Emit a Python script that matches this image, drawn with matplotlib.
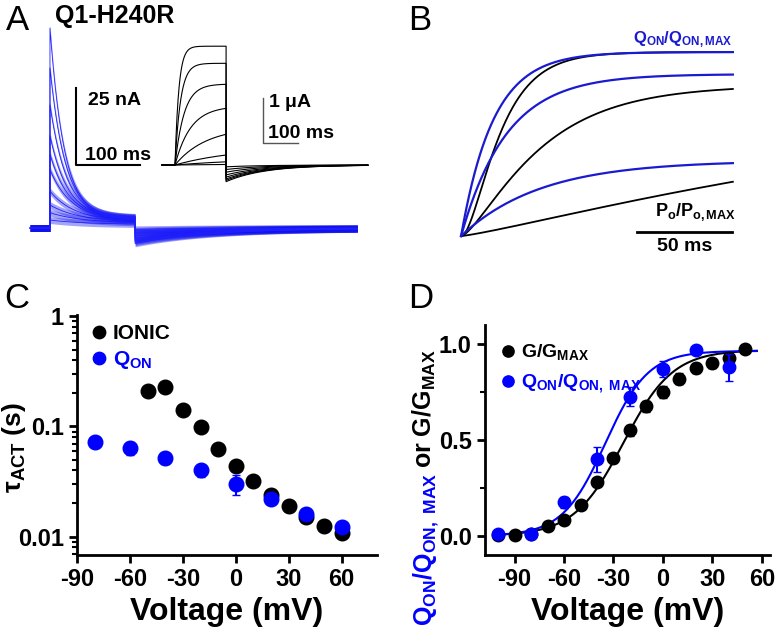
import numpy as np
import matplotlib
matplotlib.use('Agg')
import matplotlib.pyplot as plt
from matplotlib.ticker import FixedLocator, LogLocator, NullFormatter

plt.rcParams['font.family'] = 'Liberation Sans'
plt.rcParams['font.weight'] = 'bold'
plt.rcParams['axes.unicode_minus'] = False
plt.rcParams['mathtext.fontset'] = 'custom'
plt.rcParams['mathtext.rm'] = 'Liberation Sans:bold'
plt.rcParams['mathtext.bf'] = 'Liberation Sans:bold'
plt.rcParams['mathtext.it'] = 'Liberation Sans:bold'
plt.rcParams['mathtext.default'] = 'bf'

# ---- Panel A: gating currents (nA, ms from pulse onset) ----
gate_peak = [65, 52, 40, 30, 24, 19, 12, 7.5, 5, 2.6]
gate_tau = [22, 24, 26, 28, 30, 33, 38, 45, 50, 55]
gate_sustained = [3.5, 3.4, 3.2, 3.0, 2.8, 2.6, 2.3, 2.0, 1.6, 1.2]
gate_off = [5.0, 4.6, 4.2, 3.7, 3.2, 2.6, 2.0, 1.4, 0.9, 0.4]
gate_off_tau = 120
gate_pulse_end = 133
gate_t_start, gate_t_stop = -31, 480

# ---- Panel A inset: ionic currents (uA, ms from pulse onset) ----
ion_ss = [2.64, 2.26, 1.80, 1.31, 0.85, 0.40, 0.16, 0.03]
ion_tau = [11, 16, 26, 45, 90, 180, 250, 300]
ion_tail = [0.37, 0.34, 0.31, 0.27, 0.22, 0.16, 0.10, 0.04]
ion_tail_tau = 110
ion_pulse_end = 146
ion_t_start, ion_t_stop = -37, 551

# ---- Panel B: normalized time courses (ms) ----
b_t_stop = 143
qon_amp = [1.0, 0.88, 0.41]
qon_tau = [17, 24, 42]
po_amp = [1.0, 0.82, 0.80]
po_tau = [15, 35, 250]
po_pow = [2, 1.5, 1.2]

# ---- Panel C: activation time constants ----
volt_ionic = [-50, -40, -30, -20, -10, 0, 10, 20, 30, 40, 50, 60]
tau_ionic = [0.208, 0.227, 0.140, 0.098, 0.062, 0.044, 0.032, 0.024, 0.019, 0.015, 0.0126, 0.0107]
tau_ionic_err = [0.02, 0.02, 0.01, 0.007, 0.004, 0.003, 0.002, 0.002, 0.0012, 0.001, 0.0008, 0.0008]
volt_qon = [-80, -60, -40, -20, 0, 20, 40, 60]
tau_qon = [0.073, 0.064, 0.052, 0.040, 0.030, 0.022, 0.016, 0.0123]
tau_qon_err = [0.008, 0.009, 0.006, 0.005, 0.006, 0.002, 0.0015, 0.001]

# ---- Panel D: G-V and Q-V ----
volt_g = [-100, -90, -80, -70, -60, -50, -40, -30, -20, -10, 0, 10, 20, 30, 40, 50]
g_norm = [0.005, 0.005, 0.01, 0.05, 0.085, 0.16, 0.28, 0.405, 0.55, 0.675, 0.75, 0.82, 0.875, 0.90, 0.93, 0.975]
g_err = [0.01, 0.01, 0.01, 0.015, 0.02, 0.02, 0.02, 0.025, 0.03, 0.03, 0.03, 0.03, 0.025, 0.025, 0.03, 0.02]
volt_q = [-100, -80, -60, -40, -20, 0, 20, 40]
q_norm = [0.01, 0.01, 0.175, 0.40, 0.725, 0.87, 0.97, 0.88]
q_err = [0.01, 0.01, 0.03, 0.065, 0.05, 0.04, 0.015, 0.07]
g_fit = [0.97, -24, 15]   # amplitude, V1/2, slope
q_fit = [0.965, -35, 13]

fig = plt.figure(figsize=(7.84, 6.28), dpi=100)

def fx(px):
    return px / 784

def fy(py):
    return 1 - py / 628

# panel letters
for letter, px, py in [('A', 6, 4), ('B', 408, 4), ('C', 4, 282), ('D', 408, 282)]:
    fig.text(fx(px), fy(py), letter, fontsize=25, fontweight='normal', va='top', ha='left')
fig.text(fx(55), fy(16), 'Q1-H240R', fontsize=18, va='center', ha='left')

# ---- A: gating currents ----
axA = fig.add_axes([fx(25), fy(265), fx(340), 245 / 628])
axA.set_xlim(-39, 492)
axA.set_ylim(-12.0, 67.6)
axA.axis('off')
t_on = np.linspace(0, gate_pulse_end, 400)
t_off = np.linspace(gate_pulse_end, gate_t_stop, 400)
for a, tau, s, off in zip(gate_peak, gate_tau, gate_sustained, gate_off):
    i_on = (a - s) * np.exp(-t_on / tau) + s
    i_off = -off * np.exp(-(t_off - gate_pulse_end) / gate_off_tau)
    t = np.concatenate([[gate_t_start, 0], t_on, t_off])
    i = np.concatenate([[0, 0], i_on, i_off])
    axA.fill_between(t, i - 1.1, i + 1.1, color='#1010ee', alpha=0.38, lw=0)
    axA.plot(t, i, color='#2020ff', lw=0.6)
# scale bar 25 nA / 100 ms
axA.plot([40.6, 40.6, 140.6], [45.5, 20.5, 20.5], color='black', lw=1.5)
axA.text(59, 41.6, '25 nA', fontsize=14, va='center', ha='left')
axA.text(54, 23.7, '100 ms', fontsize=14, va='center', ha='left')

# ---- A inset: ionic currents ----
axI = fig.add_axes([fx(155), fy(200), fx(217), 170 / 628])
axI.set_xlim(-57.1, 562.9)
axI.set_ylim(-0.778, 3.0)
axI.axis('off')
t_on = np.linspace(0, ion_pulse_end, 300)
t_off = np.linspace(ion_pulse_end, ion_t_stop, 300)
for ss, tau, tail in zip(ion_ss, ion_tau, ion_tail):
    i_on = ss * (1 - np.exp(-t_on / tau))
    i_off = -tail * np.exp(-(t_off - ion_pulse_end) / ion_tail_tau)
    t = np.concatenate([[ion_t_start], t_on, t_off])
    i = np.concatenate([[0], i_on, i_off])
    axI.plot(t, i, color='black', lw=0.8)
axI.plot([251.4, 251.4, 351.4], [1.489, 0.489, 0.489], color='#555555', lw=1.0)
axI.text(266, 1.38, '1 $\\mathregular{\\mu}$A', fontsize=14, va='center', ha='left')
axI.text(266, 0.71, '100 ms', fontsize=14, va='center', ha='left')

# ---- B: normalized kinetics ----
axB = fig.add_axes([fx(455), fy(255), fx(290), 225 / 628])
axB.set_xlim(-3.2, 149.4)
axB.set_ylim(-0.103, 1.12)
axB.axis('off')
tb = np.linspace(0, b_t_stop, 400)
for a, tau, p in zip(po_amp, po_tau, po_pow):
    axB.plot(tb, a * (1 - np.exp(-tb / tau)) ** p, color='black', lw=1.3)
for a, tau in zip(qon_amp, qon_tau):
    axB.plot(tb, a * (1 - np.exp(-tb / tau)), color='#1a1ad0', lw=1.6)
axB.plot([92.6, 142.6], [0.022, 0.022], color='black', lw=2)
axB.text(117.6, -0.055, '50 ms', fontsize=14, ha='center', va='center')
axB.text(142.6, 1.065, '$Q_{ON}/Q_{ON,MAX}$', fontsize=12, color='#1a1ad0',
         ha='right', va='center')
axB.text(144.7, 0.13, '$P_{o}/P_{o,MAX}$', fontsize=13, color='black',
         ha='right', va='center')

def style_axis(ax):
    for side in ['top', 'right']:
        ax.spines[side].set_visible(False)
    for side in ['left', 'bottom']:
        ax.spines[side].set_linewidth(2)
    ax.tick_params(which='major', direction='out', width=2, length=6, labelsize=17)
    ax.tick_params(which='minor', direction='out', width=1.5, length=3.5)
    for lab in ax.get_xticklabels() + ax.get_yticklabels():
        lab.set_fontweight('bold')

# ---- C: tau vs voltage ----
axC = fig.add_axes([fx(77), fy(555), fx(300), 240 / 628])
axC.errorbar(volt_ionic, tau_ionic, yerr=tau_ionic_err, fmt='none', ecolor='black',
             elinewidth=1.5, capsize=3)
hC1, = axC.plot(volt_ionic, tau_ionic, 'o', color='black', ms=10.5, label='IONIC')
axC.errorbar(volt_qon, tau_qon, yerr=tau_qon_err, fmt='none', ecolor='blue',
             elinewidth=1.5, capsize=3)
hC2, = axC.plot(volt_qon, tau_qon, 'o', color='blue', ms=10.5, label='$Q_{ON}$')
axC.set_yscale('log')
axC.set_xlim(-90, 80)
axC.set_ylim(0.0068, 1.03)
axC.xaxis.set_major_locator(FixedLocator([-90, -60, -30, 0, 30, 60]))
axC.yaxis.set_major_locator(FixedLocator([0.01, 0.1, 1]))
axC.set_yticklabels(['0.01', '0.1', '1'])
axC.yaxis.set_minor_locator(LogLocator(base=10, subs=np.arange(2, 10)))
axC.yaxis.set_minor_formatter(NullFormatter())
style_axis(axC)
axC.set_xlabel('Voltage (mV)', fontsize=23, fontweight='bold', labelpad=4)
fig.text(fx(21), fy(448), 'τ$_{ACT}$ (s)', fontsize=19, rotation=90,
         rotation_mode='anchor', ha='center', va='baseline')
axC.legend(handles=[hC1, hC2], loc='upper left', bbox_to_anchor=(-0.01, 1.04),
           frameon=False, handlelength=0.6, handletextpad=0.35, labelspacing=0.3,
           prop={'size': 15, 'weight': 'bold'}, labelcolor=['black', 'blue'],
           numpoints=1, markerscale=0.85)

# ---- D: G-V and Q-V ----
axD = fig.add_axes([fx(485), fy(555), fx(285), 230 / 628])
vfit = np.linspace(-100, 57, 300)
axD.plot(vfit, g_fit[0] / (1 + np.exp((g_fit[1] - vfit) / g_fit[2])), color='black', lw=1.5)
axD.plot(vfit, q_fit[0] / (1 + np.exp((q_fit[1] - vfit) / q_fit[2])), color='blue', lw=1.5)
axD.errorbar(volt_g, g_norm, yerr=g_err, fmt='none', ecolor='black', elinewidth=1.5, capsize=3)
hD1, = axD.plot(volt_g, g_norm, 'o', color='black', ms=9, label='$G/G_{MAX}$')
axD.errorbar(volt_q, q_norm, yerr=q_err, fmt='none', ecolor='blue', elinewidth=1.5, capsize=3)
hD2, = axD.plot(volt_q, q_norm, 'o', color='blue', ms=9, label='$Q_{ON}/Q_{ON,\\ MAX}$')
axD.set_xlim(-108, 65)
axD.set_ylim(-0.1, 1.1)
axD.xaxis.set_major_locator(FixedLocator([-90, -60, -30, 0, 30, 60]))
axD.yaxis.set_major_locator(FixedLocator([0.0, 0.5, 1.0]))
axD.set_yticklabels(['0.0', '0.5', '1.0'])
axD.yaxis.set_minor_locator(FixedLocator([0.25, 0.75]))
style_axis(axD)
axD.set_xlabel('Voltage (mV)', fontsize=23, fontweight='bold', labelpad=4)
axD.legend(handles=[hD1, hD2], loc='upper left', bbox_to_anchor=(0.0, 1.0),
           frameon=False, handlelength=0.6, handletextpad=0.35, labelspacing=0.5,
           prop={'size': 14, 'weight': 'bold'}, labelcolor=['black', 'blue'],
           numpoints=1, markerscale=0.9)

# two-colour y label of D
fig.canvas.draw()
rend = fig.canvas.get_renderer()
yl1 = fig.text(fx(432), fy(626), '$Q_{ON}/Q_{ON,\\ MAX}$', fontsize=18, color='blue',
               rotation=90, rotation_mode='anchor', ha='left', va='baseline')
bb = yl1.get_window_extent(rend)
yl2 = fig.text(fx(432), bb.y1 / fig.bbox.height + 0.008, 'or $G/G_{MAX}$', fontsize=18,
               color='black', rotation=90, rotation_mode='anchor', ha='left', va='baseline')

fig.savefig('out.png', dpi=100)
